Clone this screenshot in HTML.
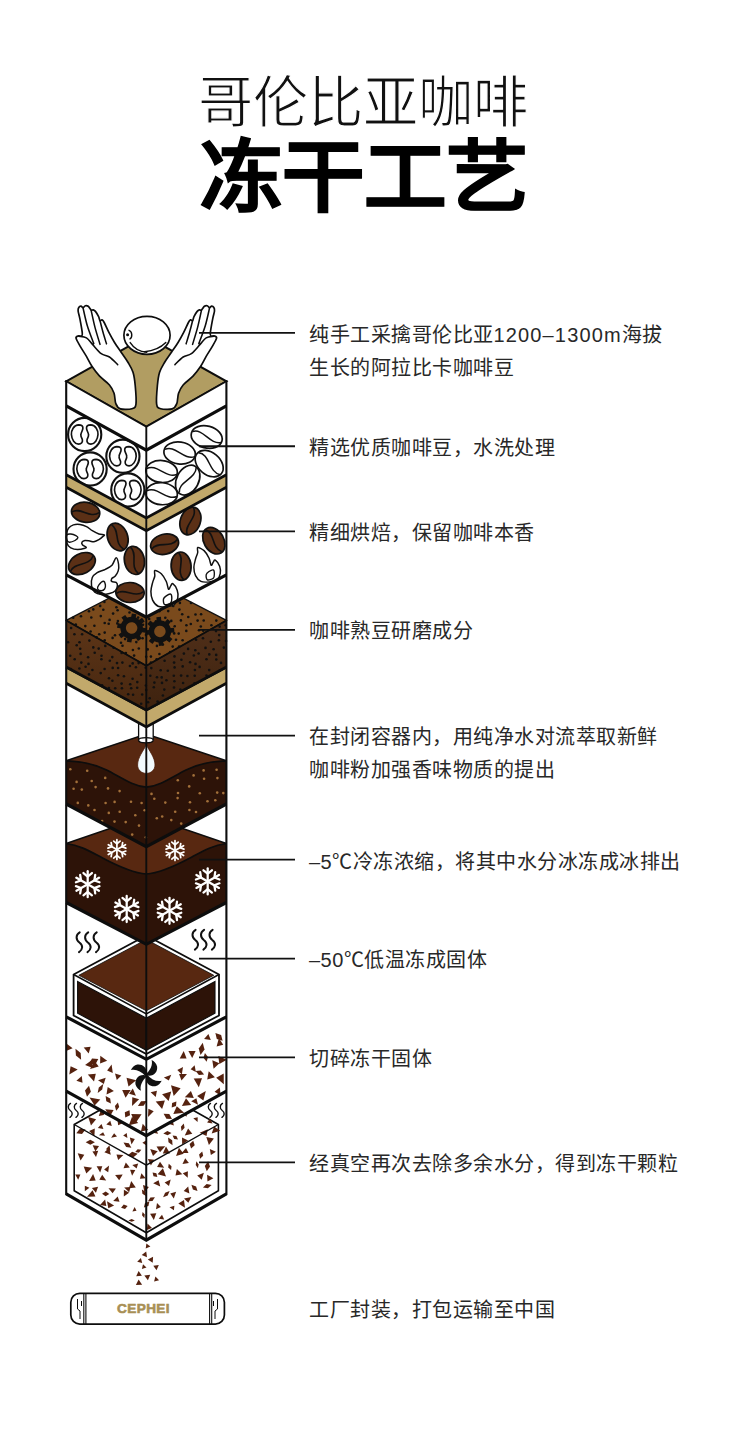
<!DOCTYPE html>
<html lang="zh-CN"><head><meta charset="utf-8">
<style>
html,body{margin:0;padding:0;background:#fff;}
body{width:730px;height:1429px;position:relative;overflow:hidden;font-family:"Liberation Sans",sans-serif;color:#222;}
.t1{position:absolute;left:198px;top:68px;font-size:55.3px;line-height:70px;font-weight:300;-webkit-text-stroke:1.2px #fff;white-space:nowrap;color:#111;}
.t2{position:absolute;left:199.5px;top:126px;font-size:82.5px;line-height:100px;font-weight:700;white-space:nowrap;color:#000;-webkit-text-stroke:1.3px #000;transform:scaleY(0.955);transform-origin:0 88px;}
.tx{position:absolute;left:309px;font-size:20px;letter-spacing:0.5px;line-height:33px;white-space:nowrap;color:#282828;}
svg{position:absolute;left:0;top:0;}
</style></head><body>
<svg width="730" height="1429" viewBox="0 0 730 1429"><defs>
<symbol id="flake" viewBox="-14 -14 28 28" overflow="visible">
 <g stroke="#fff" stroke-width="2.3" stroke-linecap="round" stroke-linejoin="round" fill="none">
  <g id="arm"><line x1="0" y1="0" x2="0" y2="-13.2"/><polyline points="-4.3,-11.3 0,-7.8 4.3,-11.3"/></g>
  <use href="#arm" transform="rotate(60)"/><use href="#arm" transform="rotate(120)"/>
  <use href="#arm" transform="rotate(180)"/><use href="#arm" transform="rotate(240)"/><use href="#arm" transform="rotate(300)"/>
 </g>
</symbol>
<symbol id="bean" viewBox="-16 -11 32 22" overflow="visible">
 <ellipse cx="0" cy="0" rx="14.2" ry="10" fill="#5b3016" stroke="#111" stroke-width="1.7"/>
 <path d="M-13.5,1.5 C-6,-5 5,6 13.5,-1.5" fill="none" stroke="#111" stroke-width="1.6"/>
</symbol>
<symbol id="gbean" viewBox="-16 -11 32 22" overflow="visible">
 <ellipse cx="0" cy="0" rx="15.8" ry="11" fill="#fff" stroke="#111" stroke-width="1.7"/>
 <path d="M-15,-1.5 C-6,-8 5,7 15.5,1.5" fill="none" stroke="#111" stroke-width="1.5"/>
</symbol>
<symbol id="gcirc" viewBox="-18 -18 36 36" overflow="visible">
 <circle cx="0" cy="0" r="16.6" fill="#fff" stroke="#111" stroke-width="2.1"/>
 <path d="M-6,-9.6 C-11,-9.5 -13.5,-4 -13.3,0 C-13,5 -10,9.6 -6.2,9.6 C-3,9.6 -2,7.5 -2.3,5.5 C-2.6,3.5 -4.2,2.5 -3.8,0 C-3.5,-2.5 -1.8,-4 -1.8,-6.5 C-1.8,-8.5 -3.5,-9.6 -6,-9.6 Z" fill="none" stroke="#111" stroke-width="1.65"/>
 <path d="M6,-9.6 C11,-9.5 13.5,-4 13.3,0 C13,5 10,9.6 6.2,9.6 C3,9.6 2,7.5 2.3,5.5 C2.6,3.5 4.2,2.5 3.8,0 C3.5,-2.5 1.8,-4 1.8,-6.5 C1.8,-8.5 3.5,-9.6 6,-9.6 Z" fill="none" stroke="#111" stroke-width="1.65"/>
</symbol>
<symbol id="flame" viewBox="-16 -20 32 40" overflow="visible"><path d="M-9.80,-17.90 C-8.72,-18.27 -5.22,-16.43 -3.30,-14.60 C-1.38,-12.77 0.50,-9.47 1.70,-6.90 C2.90,-4.33 3.17,0.07 3.90,0.80 C4.63,1.53 5.38,-1.58 6.10,-2.50 C6.82,-3.42 7.12,-5.43 8.20,-4.70 C9.28,-3.97 11.77,-0.47 12.60,1.90 C13.43,4.27 13.65,7.13 13.20,9.50 C12.75,11.87 11.73,14.63 9.90,16.10 C8.07,17.57 4.93,18.02 2.20,18.30 C-0.53,18.58 -4.13,18.90 -6.50,17.80 C-8.87,16.70 -10.80,14.17 -12.00,11.70 C-13.20,9.23 -13.70,5.92 -13.70,3.00 C-13.70,0.08 -12.65,-3.23 -12.00,-5.80 C-11.35,-8.37 -10.17,-10.38 -9.80,-12.40 C-9.43,-14.42 -10.88,-17.53 -9.80,-17.90 Z" fill="#fff" stroke="#111" stroke-width="1.5" stroke-linejoin="round"/><path d="M0.00,16.10 C-1.20,15.45 -1.38,12.05 -1.10,10.60 C-0.82,9.15 0.50,8.22 1.70,7.40 C2.90,6.58 5.18,5.33 6.10,5.70 C7.02,6.07 7.20,8.13 7.20,9.60 C7.20,11.07 7.30,13.42 6.10,14.50 C4.90,15.58 1.20,16.75 0.00,16.10 Z" fill="none" stroke="#111" stroke-width="1.4"/></symbol>
<symbol id="steam" viewBox="0 0 26 22" overflow="visible">
 <g fill="none" stroke="#111" stroke-width="2" stroke-linecap="round">
 <path id="sq" d="M4.1,0.9 C0,3.5 0,8 3.8,11 C7.8,14 7.2,18 3.4,20.6"/>
 <use href="#sq" x="8.5"/><use href="#sq" x="17"/>
 </g>
</symbol>
<linearGradient id="gb" x1="0" y1="0" x2="0" y2="1"><stop offset="0" stop-color="#5e3618"/><stop offset="1" stop-color="#46260f"/></linearGradient><linearGradient id="gbr" x1="0" y1="0" x2="0" y2="1"><stop offset="0" stop-color="#51301a"/><stop offset="1" stop-color="#3e220e"/></linearGradient>
</defs>
<rect x="70.8" y="1293.3" width="153.6" height="30.8" rx="9" fill="#fff" stroke="#0d0d0d" stroke-width="1.7"/>
<g stroke="#0d0d0d" stroke-width="1.1"><line x1="83.8" y1="1293.3" x2="83.8" y2="1324"/><line x1="85.9" y1="1293.3" x2="85.9" y2="1324"/><line x1="209.6" y1="1293.3" x2="209.6" y2="1324"/><line x1="211.7" y1="1293.3" x2="211.7" y2="1324"/></g>
<g fill="none" stroke="#0d0d0d" stroke-width="1"><path d="M77.5,1299 L77.5,1309 L80,1311 L80,1319"/><path d="M81.5,1301 L81.5,1306"/><path d="M217.5,1299 L217.5,1309 L215,1311 L215,1319"/><path d="M213.5,1301 L213.5,1306"/></g>
<text x="143.5" y="1312.8" text-anchor="middle" font-family="Liberation Sans" font-weight="700" font-size="13.6" fill="#a88f55" stroke="#a88f55" stroke-width="0.6" letter-spacing="0.4">CEPHEI</text>
<g fill="#55220f"><polygon points="146.4,1243.4 150.4,1246.5 145.7,1248.4"/><polygon points="141.7,1255.1 146.2,1251.6 147.0,1257.3"/><polygon points="140.9,1258.0 142.2,1263.0 137.2,1261.7"/><polygon points="147.8,1259.4 153.1,1256.8 152.7,1262.8"/><polygon points="156.5,1270.2 153.3,1265.7 158.8,1265.1"/><polygon points="141.9,1269.0 143.0,1264.3 146.5,1267.6"/><polygon points="141.9,1275.8 136.2,1276.3 138.6,1271.1"/><polygon points="147.9,1280.3 144.3,1275.5 150.2,1274.8"/><polygon points="159.1,1280.2 154.1,1281.5 155.4,1276.5"/><polygon points="138.6,1279.5 142.1,1284.7 135.9,1285.1"/></g>
<use href="#steam" x="67.5" y="1102.8" width="18.5" height="15.5"/>
<use href="#steam" x="207.5" y="1102.8" width="18.5" height="15.5"/>
<polygon points="74.2,1124.5 146.3,1084 218.4,1124.5 218.4,1190.8 146.3,1232.7 74.2,1190.8" fill="#fff" stroke="#0d0d0d" stroke-width="1.6"/>
<g fill="#55220f"><polygon points="138.7,1087.1 139.7,1094.3 134.4,1092.9"/><polygon points="153.6,1094.5 153.6,1090.8 156.7,1088.7 156.8,1092.5"/><polygon points="118.6,1098.7 122.3,1098.5 124.6,1101.5 120.8,1101.7"/><polygon points="130.4,1106.8 132.0,1101.2 137.0,1106.8"/><polygon points="142.9,1109.5 143.4,1102.2 149.4,1104.8"/><polygon points="158.7,1102.0 161.2,1097.1 166.5,1095.6 164.0,1100.5"/><polygon points="174.2,1102.5 168.3,1105.9 168.0,1098.4"/><polygon points="105.4,1110.5 103.7,1115.1 98.8,1115.9 100.5,1111.3"/><polygon points="112.7,1106.6 115.1,1109.0 114.4,1112.4 112.0,1109.9"/><polygon points="128.7,1112.6 132.7,1116.8 126.1,1118.2"/><polygon points="143.1,1113.3 138.6,1113.8 139.9,1109.5"/><polygon points="150.8,1110.4 154.2,1107.4 158.4,1108.8 155.1,1111.7"/><polygon points="169.2,1111.9 162.8,1113.0 167.0,1105.6"/><polygon points="174.7,1115.1 181.5,1113.7 177.9,1120.2"/><polygon points="182.8,1113.5 187.7,1111.0 186.4,1116.7"/><polygon points="88.2,1117.0 96.1,1119.3 91.0,1125.4"/><polygon points="97.8,1127.9 101.5,1123.9 103.4,1128.9"/><polygon points="106.3,1124.4 110.3,1120.8 111.8,1126.1"/><polygon points="118.2,1125.2 117.5,1119.8 123.1,1122.9"/><polygon points="139.3,1128.5 131.7,1124.0 139.1,1120.7"/><polygon points="146.0,1116.8 151.5,1117.9 153.4,1123.1 148.0,1122.0"/><polygon points="160.1,1129.1 155.2,1127.5 159.7,1123.2"/><polygon points="172.4,1119.6 173.9,1125.6 169.1,1124.0"/><polygon points="183.8,1123.5 184.6,1127.8 181.6,1131.1 180.9,1126.7"/><polygon points="193.3,1118.2 197.7,1117.3 197.6,1121.9"/><polygon points="210.0,1118.6 212.5,1123.5 207.1,1122.5"/><polygon points="76.3,1133.3 79.9,1128.7 85.6,1129.6 82.0,1134.1"/><polygon points="94.8,1128.5 94.4,1136.2 89.1,1131.0"/><polygon points="105.0,1135.7 98.9,1135.3 103.1,1132.3"/><polygon points="117.0,1136.5 111.1,1137.8 114.1,1133.3"/><polygon points="126.7,1132.9 127.4,1138.0 123.2,1135.6"/><polygon points="145.4,1136.7 140.9,1133.2 147.0,1131.3"/><polygon points="152.2,1129.6 156.2,1130.3 158.2,1133.8 154.2,1133.1"/><polygon points="163.3,1133.4 167.3,1131.1 171.5,1132.9 167.6,1135.2"/><polygon points="172.6,1135.6 176.4,1136.1 178.0,1139.5 174.2,1139.0"/><polygon points="192.3,1133.8 184.8,1135.5 188.1,1128.5"/><polygon points="199.7,1132.8 207.8,1129.2 206.5,1136.1"/><polygon points="214.1,1126.6 220.2,1130.8 211.7,1133.6"/><polygon points="85.7,1142.2 90.3,1139.8 94.9,1142.2 90.3,1144.7"/><polygon points="95.4,1151.5 92.7,1145.3 99.0,1146.1"/><polygon points="110.4,1150.9 105.9,1149.2 109.5,1145.2"/><polygon points="131.4,1147.8 126.2,1147.0 123.5,1142.4 128.8,1143.2"/><polygon points="129.8,1137.5 134.8,1139.1 131.5,1144.4"/><polygon points="142.4,1142.8 146.0,1140.5 146.8,1145.8"/><polygon points="165.2,1146.2 160.0,1152.3 156.5,1146.4"/><polygon points="168.1,1137.4 172.2,1140.2 172.5,1145.2 168.5,1142.3"/><polygon points="182.2,1144.5 182.0,1137.6 188.1,1140.4"/><polygon points="193.2,1140.7 194.7,1145.3 191.1,1148.6 189.6,1144.0"/><polygon points="208.9,1145.1 206.3,1136.9 213.9,1138.5"/><polygon points="84.3,1154.8 80.6,1160.4 77.7,1153.3"/><polygon points="92.4,1151.5 98.2,1150.7 96.0,1157.0"/><polygon points="109.1,1148.1 110.8,1154.7 104.4,1152.3"/><polygon points="123.4,1155.0 118.2,1160.0 116.5,1154.4"/><polygon points="137.7,1153.7 133.1,1157.4 127.5,1155.5 132.1,1151.7"/><polygon points="135.2,1152.1 137.6,1149.2 141.3,1149.8 138.9,1152.7"/><polygon points="153.0,1155.9 150.2,1149.1 157.7,1151.2"/><polygon points="162.8,1153.5 166.0,1146.5 170.0,1153.6"/><polygon points="178.9,1147.8 183.7,1153.7 176.1,1155.9"/><polygon points="186.0,1148.1 188.5,1153.1 181.7,1153.0"/><polygon points="202.2,1151.4 203.2,1155.7 200.1,1158.8 199.1,1154.6"/><polygon points="210.9,1155.0 209.8,1149.0 215.9,1151.8"/><polygon points="83.7,1166.5 92.2,1167.8 86.3,1173.6"/><polygon points="102.3,1166.2 100.2,1172.6 96.6,1166.3"/><polygon points="108.2,1172.2 104.1,1169.6 109.1,1165.6"/><polygon points="129.8,1167.6 123.5,1168.3 125.8,1162.4"/><polygon points="138.2,1163.5 136.6,1168.5 132.3,1165.0"/><polygon points="154.3,1159.7 150.9,1165.4 147.9,1159.1"/><polygon points="157.1,1167.0 160.0,1161.7 164.2,1167.7"/><polygon points="171.1,1170.1 168.2,1167.5 168.7,1163.7 171.5,1166.3"/><polygon points="188.9,1162.9 182.5,1164.0 185.2,1158.3"/><polygon points="197.9,1168.2 195.7,1165.0 196.4,1161.2 198.6,1164.4"/><polygon points="206.8,1171.2 204.8,1165.9 208.1,1161.2 210.0,1166.5"/><polygon points="78.2,1179.7 75.2,1174.6 80.4,1174.5"/><polygon points="95.7,1180.6 89.1,1181.0 93.1,1173.9"/><polygon points="99.3,1179.7 102.2,1174.7 106.2,1180.5"/><polygon points="122.7,1174.6 119.2,1180.3 115.1,1174.9"/><polygon points="135.3,1170.0 132.1,1175.8 130.1,1169.8"/><polygon points="139.9,1178.7 141.4,1173.2 145.7,1178.3"/><polygon points="157.3,1177.1 153.5,1176.2 152.6,1172.4 156.4,1173.3"/><polygon points="157.6,1174.3 162.9,1168.3 166.0,1176.4"/><polygon points="176.9,1169.1 182.3,1174.3 175.5,1175.6"/><polygon points="187.9,1171.2 187.7,1177.7 182.7,1173.2"/><polygon points="201.7,1179.7 197.2,1175.4 203.9,1172.7"/><polygon points="207.5,1181.5 207.1,1174.8 213.4,1178.3"/><polygon points="89.4,1187.8 84.8,1191.2 84.8,1185.7"/><polygon points="98.1,1186.7 95.9,1192.7 91.9,1187.9"/><polygon points="112.6,1193.3 108.5,1188.3 115.9,1188.5"/><polygon points="129.1,1192.3 124.2,1187.4 130.6,1187.1"/><polygon points="135.8,1187.4 128.9,1188.2 131.2,1181.1"/><polygon points="143.0,1185.1 148.9,1187.1 144.4,1192.5"/><polygon points="160.3,1186.5 153.2,1183.3 158.6,1180.2"/><polygon points="164.6,1182.5 170.7,1179.6 169.0,1186.1"/><polygon points="188.2,1186.5 189.4,1193.6 183.7,1191.0"/><polygon points="197.5,1191.1 192.9,1189.5 191.4,1184.8 196.1,1186.4"/><polygon points="202.9,1187.4 206.6,1184.0 211.6,1184.9 207.9,1188.3"/><polygon points="95.4,1196.5 87.0,1196.8 92.6,1190.2"/><polygon points="109.3,1194.1 105.6,1196.2 102.0,1193.8 105.7,1191.6"/><polygon points="119.5,1201.7 113.2,1201.1 117.7,1196.6"/><polygon points="129.1,1192.8 123.8,1196.5 123.9,1189.7"/><polygon points="146.0,1196.1 142.4,1193.8 141.9,1189.5 145.5,1191.8"/><polygon points="148.0,1201.2 150.4,1197.4 154.9,1197.3 152.5,1201.1"/><polygon points="163.1,1197.2 165.1,1192.8 169.6,1191.0 167.7,1195.5"/><polygon points="176.1,1191.8 173.8,1198.6 170.3,1193.4"/><polygon points="191.4,1197.1 188.3,1202.8 184.0,1198.4"/><polygon points="100.0,1205.1 105.1,1199.6 106.3,1206.0"/><polygon points="108.3,1208.3 107.0,1201.3 114.1,1205.6"/><polygon points="121.1,1207.7 123.7,1204.5 127.6,1205.9 125.0,1209.0"/><polygon points="134.6,1207.1 136.5,1210.7 132.4,1211.6"/><polygon points="143.9,1207.4 145.0,1202.9 149.4,1201.5 148.4,1206.0"/><polygon points="157.0,1202.9 160.9,1207.0 156.0,1209.2"/><polygon points="169.5,1207.3 174.4,1205.7 173.9,1210.2"/><polygon points="185.0,1207.7 178.3,1203.6 184.0,1200.0"/><polygon points="128.4,1220.5 131.6,1219.0 134.9,1220.4 131.7,1221.8"/><polygon points="142.6,1211.9 144.8,1214.5 144.3,1217.9 142.0,1215.3"/><polygon points="153.8,1219.9 150.1,1213.7 156.3,1213.2"/><polygon points="162.0,1214.8 164.2,1219.5 158.7,1218.8"/><polygon points="147.5,1223.5 152.0,1228.0 146.8,1229.9"/></g>
<polyline points="74.2,1124.5 146.3,1165.1 218.4,1124.5" fill="none" stroke="#0d0d0d" stroke-width="1.4"/>
<line x1="146.3" y1="1165" x2="146.3" y2="1232" stroke="#0d0d0d" stroke-width="1.3"/>
<polyline points="66.2,1193.9 146.3,1240.1 226.4,1193.9" fill="none" stroke="#0d0d0d" stroke-width="3.2" stroke-linejoin="miter"/>
<polygon points="66.2,1016.8 146.3,1059.3 226.4,1016.8 226.4,1091.2 146.3,1135.6 66.2,1091.2" fill="#fff"/>
<g fill="#55220f"><polygon points="210.8,1040.1 204.1,1038.9 208.4,1034.1"/><polygon points="222.6,1040.8 216.8,1038.9 215.4,1033.0 221.1,1035.0"/><polygon points="72.6,1048.3 66.7,1050.7 67.1,1043.9"/><polygon points="88.7,1053.4 83.7,1047.4 90.6,1046.8"/><polygon points="200.5,1054.9 198.8,1048.4 202.7,1042.8 204.5,1049.4"/><polygon points="223.2,1044.7 216.6,1046.4 218.9,1037.9"/><polygon points="81.1,1059.8 75.9,1055.5 75.5,1048.8 80.7,1053.1"/><polygon points="89.0,1063.9 92.0,1058.4 98.3,1058.9 95.3,1064.5"/><polygon points="100.3,1055.7 107.2,1060.8 100.1,1063.4"/><polygon points="179.7,1058.4 183.7,1051.0 186.6,1058.4"/><polygon points="188.4,1051.1 195.6,1051.0 192.2,1058.0"/><polygon points="206.6,1061.8 203.5,1057.8 204.9,1053.0 208.0,1057.0"/><polygon points="219.3,1064.1 218.3,1056.1 226.8,1059.7"/><polygon points="69.3,1074.6 70.6,1066.3 77.7,1069.6"/><polygon points="91.2,1060.4 93.5,1068.2 85.1,1064.9"/><polygon points="90.0,1068.9 94.5,1060.9 98.7,1066.4"/><polygon points="111.6,1064.5 112.8,1073.1 107.1,1070.4"/><polygon points="183.0,1067.1 181.8,1074.5 177.3,1070.1"/><polygon points="194.6,1065.3 195.9,1072.0 190.6,1069.2"/><polygon points="204.1,1074.4 198.9,1074.9 195.6,1070.9 200.8,1070.5"/><polygon points="212.3,1060.3 219.4,1063.3 213.6,1068.8"/><polygon points="81.8,1076.1 82.5,1082.7 76.4,1080.7"/><polygon points="87.8,1074.6 95.8,1073.7 94.0,1081.5"/><polygon points="105.7,1077.8 103.8,1084.0 98.0,1080.3"/><polygon points="115.0,1073.4 121.4,1075.5 116.8,1080.1"/><polygon points="128.5,1086.5 126.5,1077.8 136.2,1080.3"/><polygon points="171.3,1074.7 168.8,1080.6 163.9,1077.4"/><polygon points="179.1,1074.0 187.0,1074.1 181.5,1080.6"/><polygon points="198.8,1087.2 193.7,1078.6 202.0,1078.3"/><polygon points="214.9,1077.2 207.2,1079.5 208.7,1071.2"/><polygon points="223.8,1084.3 216.2,1077.7 223.7,1073.6"/><polygon points="89.0,1085.7 90.9,1091.7 87.0,1096.7 85.0,1090.6"/><polygon points="103.3,1084.1 102.2,1089.6 97.7,1092.9 98.8,1087.4"/><polygon points="113.9,1091.1 106.5,1094.4 107.7,1087.0"/><polygon points="125.6,1097.8 122.2,1089.9 130.7,1089.9"/><polygon points="135.9,1095.7 129.1,1093.7 132.8,1088.5"/><polygon points="150.6,1092.2 156.9,1090.7 155.8,1097.0"/><polygon points="171.2,1091.4 168.6,1101.0 162.1,1094.2"/><polygon points="171.0,1085.3 180.6,1088.2 173.7,1095.9"/><polygon points="184.8,1097.3 190.9,1090.9 193.8,1097.9"/><polygon points="205.8,1091.0 203.4,1100.4 197.1,1096.1"/><polygon points="220.6,1095.6 214.6,1091.7 219.9,1087.6"/><polygon points="100.3,1099.6 94.6,1105.5 89.5,1097.6"/><polygon points="110.9,1103.4 106.3,1101.2 105.6,1096.1 110.2,1098.4"/><polygon points="116.2,1110.7 114.9,1106.1 117.9,1102.4 119.2,1107.0"/><polygon points="132.3,1097.2 139.1,1099.3 132.0,1105.9"/><polygon points="146.8,1101.0 143.6,1105.8 137.9,1105.9 141.1,1101.2"/><polygon points="155.7,1101.6 164.9,1100.4 162.1,1109.0"/><polygon points="171.7,1107.5 172.1,1102.9 176.4,1101.5 176.0,1106.0"/><polygon points="191.2,1105.1 181.9,1105.9 186.0,1098.3"/><polygon points="196.4,1098.2 198.0,1104.8 191.2,1101.3"/><polygon points="105.2,1109.2 113.6,1109.9 109.9,1116.5"/><polygon points="125.3,1117.5 124.8,1112.3 129.5,1110.2 130.0,1115.3"/><polygon points="135.3,1123.5 131.2,1114.0 141.6,1114.3"/><polygon points="153.7,1111.2 148.0,1117.0 148.4,1108.8"/><polygon points="163.6,1113.8 169.3,1113.9 172.0,1118.9 166.4,1118.8"/><polygon points="184.2,1112.7 173.3,1114.1 176.8,1106.2"/><polygon points="138.2,1122.9 128.9,1125.2 132.0,1116.7"/><polygon points="148.2,1130.0 140.9,1131.6 142.7,1123.7"/></g>
<g transform="translate(146.3,1075.4)" fill="#111"><path transform="rotate(0)" d="M0.3,-2.5 C0.5,-8.5 -4.5,-11.5 -9,-10.8 C-12,-10 -14.2,-7.8 -15.4,-5.3 C-11,-6.6 -5,-4.5 -0.6,1.2 Z"/><path transform="rotate(90)" d="M0.3,-2.5 C0.5,-8.5 -4.5,-11.5 -9,-10.8 C-12,-10 -14.2,-7.8 -15.4,-5.3 C-11,-6.6 -5,-4.5 -0.6,1.2 Z"/><path transform="rotate(180)" d="M0.3,-2.5 C0.5,-8.5 -4.5,-11.5 -9,-10.8 C-12,-10 -14.2,-7.8 -15.4,-5.3 C-11,-6.6 -5,-4.5 -0.6,1.2 Z"/><path transform="rotate(270)" d="M0.3,-2.5 C0.5,-8.5 -4.5,-11.5 -9,-10.8 C-12,-10 -14.2,-7.8 -15.4,-5.3 C-11,-6.6 -5,-4.5 -0.6,1.2 Z"/></g>
<polyline points="66.2,1091.2 146.3,1135.6 226.4,1091.2" fill="none" stroke="#0d0d0d" stroke-width="3.2" stroke-linejoin="miter"/>
<polyline points="66.2,1016.8 146.3,1059.3 226.4,1016.8" fill="none" stroke="#0d0d0d" stroke-width="3.2" stroke-linejoin="miter"/>
<use href="#steam" x="75.6" y="931.5" width="26" height="22"/>
<use href="#steam" x="191.5" y="929" width="26" height="22"/>
<polygon points="73.6,974.5 146.3,935.5 219.0,974.5 219.0,1015.5 146.3,1054 73.6,1015.5" fill="#fff" stroke="#0d0d0d" stroke-width="1.8"/>
<polygon points="78.8,975.3 146.3,939.5 213.8,975.3 146.3,1010.8" fill="#582811" stroke="#0d0d0d" stroke-width="0.8"/>
<polygon points="77.6,981.5 146.3,1018.2 146.3,1050.3 77.6,1013.2" fill="#2d1308" stroke="#0d0d0d" stroke-width="1.1"/>
<polygon points="215,981.5 146.3,1018.2 146.3,1050.3 215,1013.2" fill="#2d1308" stroke="#0d0d0d" stroke-width="1.1"/>
<polyline points="73.6,974.5 146.3,1013.8 219.0,974.5" fill="none" stroke="#0d0d0d" stroke-width="1.5"/>
<path d="M66.2,843.5 L146.3,816 L226.4,843.5 L226.4,880 L66.2,880 Z" fill="#582811"/>
<path d="M66.2,843.5 C80.4,845.5 89.4,851 102.6,858 C117.6,866 132.6,873 146.3,874 C160,873 175,866 190,858 C203,851 212,845.5 226.4,843.5 L226.4,902.5 L146.3,944.3 L66.2,902.5 Z" fill="#2d1308"/>
<path d="M66.2,843.5 C80.4,845.5 89.4,851 102.6,858 C117.6,866 132.6,873 146.3,874 C160,873 175,866 190,858 C203,851 212,845.5 226.4,843.5" fill="none" stroke="#0d0d0d" stroke-width="1.7"/>
<polyline points="66.2,843.5 146.3,816 226.4,843.5" fill="none" stroke="#0d0d0d" stroke-width="1.5"/>
<use href="#flake" x="106.4" y="839.1" width="21.0" height="21.0"/>
<use href="#flake" x="164.5" y="840.1" width="21.0" height="21.0"/>
<use href="#flake" x="73.9" y="870.4000000000001" width="27.6" height="27.6"/>
<use href="#flake" x="112.9" y="895.2" width="27.6" height="27.6"/>
<use href="#flake" x="155.7" y="897.0" width="27.6" height="27.6"/>
<use href="#flake" x="193.89999999999998" y="867.6" width="27.6" height="27.6"/>
<polyline points="66.2,902.5 146.3,944.3 226.4,902.5" fill="none" stroke="#0d0d0d" stroke-width="3.2" stroke-linejoin="miter"/>
<path d="M66.2,760.8 L146.3,734 L226.4,760.8 L226.4,790 L66.2,790 Z" fill="#582811"/>
<path d="M66.2,760.8 C80.4,761.2 92.4,763 106.6,770 C120.6,777 132.6,786 146.3,787.2 C160,786 172,777 186,770 C200,763 212.2,761.2 226.4,760.8 L226.4,804 L146.3,846.6 L66.2,804 Z" fill="#2d1308"/>
<g fill="#a2703a"><circle cx="70.3" cy="769.2" r="1.3"/><circle cx="87.2" cy="770.8" r="1.3"/><circle cx="203.6" cy="770.4" r="1.3"/><circle cx="216.6" cy="769.8" r="1.3"/><circle cx="76.6" cy="781.9" r="1.3"/><circle cx="91.7" cy="781.0" r="1.3"/><circle cx="105.2" cy="777.9" r="1.3"/><circle cx="177.8" cy="780.3" r="1.3"/><circle cx="193.6" cy="775.4" r="1.3"/><circle cx="204.1" cy="778.8" r="1.3"/><circle cx="217.4" cy="778.1" r="1.3"/><circle cx="73.6" cy="788.7" r="1.3"/><circle cx="81.8" cy="789.6" r="1.3"/><circle cx="95.6" cy="787.1" r="1.3"/><circle cx="108.0" cy="788.4" r="1.3"/><circle cx="119.6" cy="791.1" r="1.3"/><circle cx="151.5" cy="793.9" r="1.3"/><circle cx="178.0" cy="793.0" r="1.3"/><circle cx="189.2" cy="786.4" r="1.3"/><circle cx="199.8" cy="793.3" r="1.3"/><circle cx="217.2" cy="792.6" r="1.3"/><circle cx="223.3" cy="793.1" r="1.3"/><circle cx="77.8" cy="802.9" r="1.3"/><circle cx="88.3" cy="805.4" r="1.3"/><circle cx="105.6" cy="803.0" r="1.3"/><circle cx="114.6" cy="801.9" r="1.3"/><circle cx="131.0" cy="801.7" r="1.3"/><circle cx="141.6" cy="803.0" r="1.3"/><circle cx="154.3" cy="798.8" r="1.3"/><circle cx="165.3" cy="802.6" r="1.3"/><circle cx="177.6" cy="798.1" r="1.3"/><circle cx="190.0" cy="802.2" r="1.3"/><circle cx="207.5" cy="801.2" r="1.3"/><circle cx="215.3" cy="800.2" r="1.3"/><circle cx="94.5" cy="810.0" r="1.3"/><circle cx="108.8" cy="812.9" r="1.3"/><circle cx="119.7" cy="811.7" r="1.3"/><circle cx="135.3" cy="815.2" r="1.3"/><circle cx="144.6" cy="810.3" r="1.3"/><circle cx="162.2" cy="816.5" r="1.3"/><circle cx="175.2" cy="811.7" r="1.3"/><circle cx="189.4" cy="810.0" r="1.3"/><circle cx="196.0" cy="812.0" r="1.3"/><circle cx="102.1" cy="821.0" r="1.3"/><circle cx="114.5" cy="821.6" r="1.3"/><circle cx="125.7" cy="822.1" r="1.3"/><circle cx="139.0" cy="825.6" r="1.3"/><circle cx="156.8" cy="818.3" r="1.3"/><circle cx="171.3" cy="820.1" r="1.3"/><circle cx="181.2" cy="823.6" r="1.3"/><circle cx="132.2" cy="834.6" r="1.3"/><circle cx="145.8" cy="837.2" r="1.3"/></g>
<path d="M66.2,760.8 C80.4,761.2 92.4,763 106.6,770 C120.6,777 132.6,786 146.3,787.2 C160,786 172,777 186,770 C200,763 212.2,761.2 226.4,760.8" fill="none" stroke="#0d0d0d" stroke-width="1.7"/>
<polyline points="66.2,760.8 146.3,734 226.4,760.8" fill="none" stroke="#0d0d0d" stroke-width="1.5"/>
<path d="M146.3,744.4 C149,751 155,757 155,765 C155,770 151,773.4 146.3,773.4 C141.5,773.4 137.6,770 137.6,765 C137.6,757 143.6,751 146.3,744.4 Z" fill="#f2fafd" stroke="#4a1a08" stroke-width="0.8"/>
<rect x="138.6" y="720" width="14.6" height="20.2" fill="#fff" stroke="#0d0d0d" stroke-width="1.3"/>
<ellipse cx="145.9" cy="740.2" rx="7.3" ry="2.6" fill="#fff" stroke="#0d0d0d" stroke-width="1.3"/>
<polyline points="66.2,804 146.3,846.6 226.4,804" fill="none" stroke="#0d0d0d" stroke-width="3.2" stroke-linejoin="miter"/>
<polygon points="66.2,667 146.3,710.1 226.4,667 226.4,683.3 146.3,726.9 66.2,683.3" fill="#c2a96b"/>
<polyline points="66.2,667 146.3,710.1 226.4,667" fill="none" stroke="#0d0d0d" stroke-width="2.6" stroke-linejoin="miter"/>
<polyline points="66.2,683.3 146.3,726.9 226.4,683.3" fill="none" stroke="#0d0d0d" stroke-width="2.8" stroke-linejoin="miter"/>
<polygon points="66.2,620.4 146.3,665.8 146.3,710.1 66.2,667" fill="url(#gb)"/>
<polygon points="146.3,665.8 226.4,620.4 226.4,667 146.3,710.1" fill="url(#gbr)"/>
<polygon points="66.2,620.4 146.3,579 226.4,620.4 146.3,665.8" fill="#7a4a1c" stroke="#111" stroke-width="1.3"/>
<g fill="#111"><circle cx="136.7" cy="585.3" r="1.3"/><circle cx="144.2" cy="584.5" r="1.3"/><circle cx="125.7" cy="593.1" r="1.3"/><circle cx="132.8" cy="588.2" r="1.3"/><circle cx="142.1" cy="593.0" r="1.3"/><circle cx="150.6" cy="590.6" r="1.3"/><circle cx="157.7" cy="588.5" r="1.3"/><circle cx="166.6" cy="590.7" r="1.3"/><circle cx="120.2" cy="595.3" r="1.3"/><circle cx="125.0" cy="599.5" r="1.3"/><circle cx="134.8" cy="600.1" r="1.3"/><circle cx="146.4" cy="596.6" r="1.3"/><circle cx="152.1" cy="597.5" r="1.3"/><circle cx="161.3" cy="597.9" r="1.3"/><circle cx="169.0" cy="598.1" r="1.3"/><circle cx="179.5" cy="597.4" r="1.3"/><circle cx="100.2" cy="605.9" r="1.3"/><circle cx="104.4" cy="601.9" r="1.3"/><circle cx="116.4" cy="607.2" r="1.3"/><circle cx="122.1" cy="604.2" r="1.3"/><circle cx="132.3" cy="603.4" r="1.3"/><circle cx="139.2" cy="603.4" r="1.3"/><circle cx="147.4" cy="605.1" r="1.3"/><circle cx="155.2" cy="603.8" r="1.3"/><circle cx="166.2" cy="601.7" r="1.3"/><circle cx="173.2" cy="605.9" r="1.3"/><circle cx="179.9" cy="602.9" r="1.3"/><circle cx="191.0" cy="603.0" r="1.3"/><circle cx="89.0" cy="611.3" r="1.3"/><circle cx="93.3" cy="609.4" r="1.3"/><circle cx="103.3" cy="609.8" r="1.3"/><circle cx="113.1" cy="613.6" r="1.3"/><circle cx="117.6" cy="610.3" r="1.3"/><circle cx="129.5" cy="612.5" r="1.3"/><circle cx="137.7" cy="610.7" r="1.3"/><circle cx="141.9" cy="610.4" r="1.3"/><circle cx="154.0" cy="610.3" r="1.3"/><circle cx="159.6" cy="611.1" r="1.3"/><circle cx="168.2" cy="611.1" r="1.3"/><circle cx="179.4" cy="609.6" r="1.3"/><circle cx="182.2" cy="614.3" r="1.3"/><circle cx="195.5" cy="614.5" r="1.3"/><circle cx="201.1" cy="614.3" r="1.3"/><circle cx="73.2" cy="617.8" r="1.3"/><circle cx="81.0" cy="616.2" r="1.3"/><circle cx="91.3" cy="617.5" r="1.3"/><circle cx="100.8" cy="616.1" r="1.3"/><circle cx="109.6" cy="619.9" r="1.3"/><circle cx="117.9" cy="621.1" r="1.3"/><circle cx="126.0" cy="619.2" r="1.3"/><circle cx="128.9" cy="620.2" r="1.3"/><circle cx="138.1" cy="617.6" r="1.3"/><circle cx="149.2" cy="618.9" r="1.3"/><circle cx="155.9" cy="621.4" r="1.3"/><circle cx="165.3" cy="617.8" r="1.3"/><circle cx="171.3" cy="620.9" r="1.3"/><circle cx="180.9" cy="620.4" r="1.3"/><circle cx="188.3" cy="617.0" r="1.3"/><circle cx="197.6" cy="620.6" r="1.3"/><circle cx="203.7" cy="620.5" r="1.3"/><circle cx="216.3" cy="620.6" r="1.3"/><circle cx="71.1" cy="628.0" r="1.3"/><circle cx="75.8" cy="624.6" r="1.3"/><circle cx="85.3" cy="626.1" r="1.3"/><circle cx="94.4" cy="625.7" r="1.3"/><circle cx="104.7" cy="623.0" r="1.3"/><circle cx="108.7" cy="623.7" r="1.3"/><circle cx="117.3" cy="623.4" r="1.3"/><circle cx="130.5" cy="628.0" r="1.3"/><circle cx="133.5" cy="625.9" r="1.3"/><circle cx="143.0" cy="624.8" r="1.3"/><circle cx="151.4" cy="626.8" r="1.3"/><circle cx="161.0" cy="625.1" r="1.3"/><circle cx="166.9" cy="624.9" r="1.3"/><circle cx="174.7" cy="626.2" r="1.3"/><circle cx="186.4" cy="625.2" r="1.3"/><circle cx="190.8" cy="624.0" r="1.3"/><circle cx="200.8" cy="626.5" r="1.3"/><circle cx="211.4" cy="625.2" r="1.3"/><circle cx="219.7" cy="626.6" r="1.3"/><circle cx="225.7" cy="625.2" r="1.3"/><circle cx="74.4" cy="634.2" r="1.3"/><circle cx="82.1" cy="634.2" r="1.3"/><circle cx="90.6" cy="631.5" r="1.3"/><circle cx="99.2" cy="634.2" r="1.3"/><circle cx="104.7" cy="632.6" r="1.3"/><circle cx="115.0" cy="635.3" r="1.3"/><circle cx="126.2" cy="632.3" r="1.3"/><circle cx="134.1" cy="634.8" r="1.3"/><circle cx="138.6" cy="632.8" r="1.3"/><circle cx="146.0" cy="634.9" r="1.3"/><circle cx="157.4" cy="635.3" r="1.3"/><circle cx="166.3" cy="634.0" r="1.3"/><circle cx="174.2" cy="633.4" r="1.3"/><circle cx="178.7" cy="633.6" r="1.3"/><circle cx="186.3" cy="630.9" r="1.3"/><circle cx="199.0" cy="630.3" r="1.3"/><circle cx="203.2" cy="630.7" r="1.3"/><circle cx="216.0" cy="631.1" r="1.3"/><circle cx="219.2" cy="635.1" r="1.3"/><circle cx="68.1" cy="642.2" r="1.3"/><circle cx="79.5" cy="642.2" r="1.3"/><circle cx="89.4" cy="640.6" r="1.3"/><circle cx="96.7" cy="637.4" r="1.3"/><circle cx="104.7" cy="640.2" r="1.3"/><circle cx="112.6" cy="637.9" r="1.3"/><circle cx="121.0" cy="642.7" r="1.3"/><circle cx="125.1" cy="639.1" r="1.3"/><circle cx="136.3" cy="642.1" r="1.3"/><circle cx="142.6" cy="638.3" r="1.3"/><circle cx="150.8" cy="640.9" r="1.3"/><circle cx="162.0" cy="639.5" r="1.3"/><circle cx="167.9" cy="639.6" r="1.3"/><circle cx="176.0" cy="639.7" r="1.3"/><circle cx="182.6" cy="640.2" r="1.3"/><circle cx="196.1" cy="639.7" r="1.3"/><circle cx="203.0" cy="638.2" r="1.3"/><circle cx="210.8" cy="641.7" r="1.3"/><circle cx="218.9" cy="640.3" r="1.3"/><circle cx="226.0" cy="641.0" r="1.3"/><circle cx="76.7" cy="645.2" r="1.3"/><circle cx="80.2" cy="648.8" r="1.3"/><circle cx="93.3" cy="647.4" r="1.3"/><circle cx="98.7" cy="648.6" r="1.3"/><circle cx="105.3" cy="645.9" r="1.3"/><circle cx="113.6" cy="647.8" r="1.3"/><circle cx="122.5" cy="645.7" r="1.3"/><circle cx="132.9" cy="650.0" r="1.3"/><circle cx="138.8" cy="648.5" r="1.3"/><circle cx="147.7" cy="649.4" r="1.3"/><circle cx="156.9" cy="645.9" r="1.3"/><circle cx="162.9" cy="644.5" r="1.3"/><circle cx="172.7" cy="646.6" r="1.3"/><circle cx="179.1" cy="646.5" r="1.3"/><circle cx="188.1" cy="648.9" r="1.3"/><circle cx="195.3" cy="650.2" r="1.3"/><circle cx="205.5" cy="647.9" r="1.3"/><circle cx="213.6" cy="649.3" r="1.3"/><circle cx="223.9" cy="647.6" r="1.3"/><circle cx="70.2" cy="655.7" r="1.3"/><circle cx="80.6" cy="653.9" r="1.3"/><circle cx="88.1" cy="657.2" r="1.3"/><circle cx="94.7" cy="652.8" r="1.3"/><circle cx="101.5" cy="655.7" r="1.3"/><circle cx="112.3" cy="657.1" r="1.3"/><circle cx="121.6" cy="652.9" r="1.3"/><circle cx="125.9" cy="653.0" r="1.3"/><circle cx="134.1" cy="655.6" r="1.3"/><circle cx="146.2" cy="656.8" r="1.3"/><circle cx="150.9" cy="656.6" r="1.3"/><circle cx="159.4" cy="654.0" r="1.3"/><circle cx="170.1" cy="652.0" r="1.3"/><circle cx="174.5" cy="656.4" r="1.3"/><circle cx="183.9" cy="653.6" r="1.3"/><circle cx="193.8" cy="655.5" r="1.3"/><circle cx="198.6" cy="653.5" r="1.3"/><circle cx="209.3" cy="654.4" r="1.3"/><circle cx="216.2" cy="654.9" r="1.3"/><circle cx="74.7" cy="659.3" r="1.3"/><circle cx="81.3" cy="662.6" r="1.3"/><circle cx="88.5" cy="663.9" r="1.3"/><circle cx="101.4" cy="659.2" r="1.3"/><circle cx="109.8" cy="660.8" r="1.3"/><circle cx="117.0" cy="663.1" r="1.3"/><circle cx="122.4" cy="662.6" r="1.3"/><circle cx="132.7" cy="663.4" r="1.3"/><circle cx="138.6" cy="663.1" r="1.3"/><circle cx="150.9" cy="662.6" r="1.3"/><circle cx="156.6" cy="659.3" r="1.3"/><circle cx="164.6" cy="660.7" r="1.3"/><circle cx="174.1" cy="662.6" r="1.3"/><circle cx="181.4" cy="659.7" r="1.3"/><circle cx="190.1" cy="662.3" r="1.3"/><circle cx="195.5" cy="663.9" r="1.3"/><circle cx="206.5" cy="659.3" r="1.3"/><circle cx="216.3" cy="659.5" r="1.3"/><circle cx="221.0" cy="662.9" r="1.3"/><circle cx="70.9" cy="669.0" r="1.3"/><circle cx="79.4" cy="668.5" r="1.3"/><circle cx="85.6" cy="666.8" r="1.3"/><circle cx="92.4" cy="670.0" r="1.3"/><circle cx="104.6" cy="669.0" r="1.3"/><circle cx="112.7" cy="667.9" r="1.3"/><circle cx="118.1" cy="668.0" r="1.3"/><circle cx="129.9" cy="666.0" r="1.3"/><circle cx="135.9" cy="667.2" r="1.3"/><circle cx="145.7" cy="667.8" r="1.3"/><circle cx="151.3" cy="668.1" r="1.3"/><circle cx="160.7" cy="670.3" r="1.3"/><circle cx="167.8" cy="670.8" r="1.3"/><circle cx="174.6" cy="667.4" r="1.3"/><circle cx="182.7" cy="666.4" r="1.3"/><circle cx="194.9" cy="670.0" r="1.3"/><circle cx="199.6" cy="666.9" r="1.3"/><circle cx="209.2" cy="670.1" r="1.3"/><circle cx="219.8" cy="670.2" r="1.3"/><circle cx="89.0" cy="674.4" r="1.3"/><circle cx="100.7" cy="673.1" r="1.3"/><circle cx="109.0" cy="678.2" r="1.3"/><circle cx="118.1" cy="675.2" r="1.3"/><circle cx="123.9" cy="676.3" r="1.3"/><circle cx="132.6" cy="678.7" r="1.3"/><circle cx="141.1" cy="674.7" r="1.3"/><circle cx="150.3" cy="675.7" r="1.3"/><circle cx="157.0" cy="677.2" r="1.3"/><circle cx="161.7" cy="677.4" r="1.3"/><circle cx="173.8" cy="675.8" r="1.3"/><circle cx="181.1" cy="675.6" r="1.3"/><circle cx="187.4" cy="676.0" r="1.3"/><circle cx="194.7" cy="675.8" r="1.3"/><circle cx="206.5" cy="675.5" r="1.3"/><circle cx="102.1" cy="685.2" r="1.3"/><circle cx="112.4" cy="680.8" r="1.3"/><circle cx="121.6" cy="683.6" r="1.3"/><circle cx="130.2" cy="684.3" r="1.3"/><circle cx="137.3" cy="682.1" r="1.3"/><circle cx="145.9" cy="685.5" r="1.3"/><circle cx="154.4" cy="682.6" r="1.3"/><circle cx="162.0" cy="682.9" r="1.3"/><circle cx="166.4" cy="680.3" r="1.3"/><circle cx="174.4" cy="681.2" r="1.3"/><circle cx="183.1" cy="683.0" r="1.3"/><circle cx="194.5" cy="683.2" r="1.3"/><circle cx="108.9" cy="688.0" r="1.3"/><circle cx="115.2" cy="688.3" r="1.3"/><circle cx="121.9" cy="688.2" r="1.3"/><circle cx="131.2" cy="688.2" r="1.3"/><circle cx="137.2" cy="687.8" r="1.3"/><circle cx="146.2" cy="690.1" r="1.3"/><circle cx="153.8" cy="687.3" r="1.3"/><circle cx="164.3" cy="689.6" r="1.3"/><circle cx="174.0" cy="687.5" r="1.3"/><circle cx="180.4" cy="689.5" r="1.3"/><circle cx="128.2" cy="694.3" r="1.3"/><circle cx="133.1" cy="694.8" r="1.3"/><circle cx="142.2" cy="694.5" r="1.3"/><circle cx="149.7" cy="698.2" r="1.3"/><circle cx="162.9" cy="695.5" r="1.3"/><circle cx="141.2" cy="703.7" r="1.3"/><circle cx="148.1" cy="702.3" r="1.3"/><circle cx="157.6" cy="701.6" r="1.3"/></g>
<polyline points="66.2,620.4 146.3,665.8 226.4,620.4" fill="none" stroke="#0d0d0d" stroke-width="1.7"/>
<g transform="translate(131.6,628) rotate(10)" fill="#111"><circle r="11.23"/><rect x="-2.3" y="-14.40" width="4.6" height="4.67" transform="rotate(0.0)"/><rect x="-2.3" y="-14.40" width="4.6" height="4.67" transform="rotate(45.0)"/><rect x="-2.3" y="-14.40" width="4.6" height="4.67" transform="rotate(90.0)"/><rect x="-2.3" y="-14.40" width="4.6" height="4.67" transform="rotate(135.0)"/><rect x="-2.3" y="-14.40" width="4.6" height="4.67" transform="rotate(180.0)"/><rect x="-2.3" y="-14.40" width="4.6" height="4.67" transform="rotate(225.0)"/><rect x="-2.3" y="-14.40" width="4.6" height="4.67" transform="rotate(270.0)"/><rect x="-2.3" y="-14.40" width="4.6" height="4.67" transform="rotate(315.0)"/><circle r="5.76" fill="#7a4a1c"/></g>
<g transform="translate(159.9,631.4) rotate(-5)" fill="#111"><circle r="11.23"/><rect x="-2.3" y="-14.40" width="4.6" height="4.67" transform="rotate(0.0)"/><rect x="-2.3" y="-14.40" width="4.6" height="4.67" transform="rotate(45.0)"/><rect x="-2.3" y="-14.40" width="4.6" height="4.67" transform="rotate(90.0)"/><rect x="-2.3" y="-14.40" width="4.6" height="4.67" transform="rotate(135.0)"/><rect x="-2.3" y="-14.40" width="4.6" height="4.67" transform="rotate(180.0)"/><rect x="-2.3" y="-14.40" width="4.6" height="4.67" transform="rotate(225.0)"/><rect x="-2.3" y="-14.40" width="4.6" height="4.67" transform="rotate(270.0)"/><rect x="-2.3" y="-14.40" width="4.6" height="4.67" transform="rotate(315.0)"/><circle r="5.76" fill="#7a4a1c"/></g>
<polyline points="66.2,667 146.3,710.1 226.4,667" fill="none" stroke="#0d0d0d" stroke-width="2.6" stroke-linejoin="miter"/>
<polygon points="66.2,488.6 146.3,532.1 226.4,488.6 226.4,574.8 146.3,617.2 66.2,574.8" fill="#fff"/>
<g transform="translate(85.6,512.3) rotate(8)"><use href="#bean" x="-16" y="-11" width="32" height="22"/></g>
<g transform="translate(117.6,537) rotate(70)"><use href="#bean" x="-16" y="-11" width="32" height="22"/></g>
<g transform="translate(81.9,563.6) rotate(-28)"><use href="#bean" x="-16" y="-11" width="32" height="22"/></g>
<g transform="translate(134.4,560.4) rotate(80)"><use href="#bean" x="-16" y="-11" width="32" height="22"/></g>
<g transform="translate(130,592.5) rotate(3)"><use href="#bean" x="-16" y="-11" width="32" height="22"/></g>
<g transform="translate(190.4,521) rotate(-70)"><use href="#bean" x="-16" y="-11" width="32" height="22"/></g>
<g transform="translate(164.6,544.2) rotate(-14)"><use href="#bean" x="-16" y="-11" width="32" height="22"/></g>
<g transform="translate(181.1,566.2) rotate(86)"><use href="#bean" x="-16" y="-11" width="32" height="22"/></g>
<g transform="translate(213.8,540.7) rotate(60)"><use href="#bean" x="-16" y="-11" width="32" height="22"/></g>
<g transform="translate(164.6,588.4) rotate(0) scale(1.0,1.0)"><use href="#flame" x="-16" y="-20" width="32" height="40"/></g>
<g transform="translate(207.3,564.5) rotate(0) scale(0.98,0.95)"><use href="#flame" x="-16" y="-20" width="32" height="40"/></g>
<path d="M104.20,534.80 C103.52,534.40 100.88,534.68 98.90,534.00 C96.92,533.32 94.37,531.93 92.30,530.70 C90.23,529.47 88.55,527.63 86.50,526.60 C84.45,525.57 82.18,524.78 80.00,524.50 C77.82,524.22 75.32,524.28 73.40,524.90 C71.48,525.52 69.60,526.83 68.50,528.20 C67.40,529.57 67.02,530.50 66.80,533.10 C66.58,535.70 66.52,541.33 67.20,543.80 C67.88,546.27 69.18,546.93 70.90,547.90 C72.62,548.87 75.17,549.53 77.50,549.60 C79.83,549.67 83.47,548.72 84.90,548.30 C86.33,547.88 86.52,547.70 86.10,547.10 C85.68,546.50 83.08,545.52 82.40,544.70 C81.72,543.88 81.58,542.90 82.00,542.20 C82.42,541.50 83.60,540.70 84.90,540.50 C86.20,540.30 88.30,540.78 89.80,541.00 C91.30,541.22 92.38,542.02 93.90,541.80 C95.42,541.58 97.38,540.60 98.90,539.70 C100.42,538.80 102.12,537.22 103.00,536.40 C103.88,535.58 104.88,535.20 104.20,534.80 Z" fill="#fff" stroke="#111" stroke-width="1.5" stroke-linejoin="round"/><path d="M66.80,534.80 C67.48,533.85 69.38,533.87 70.90,534.00 C72.42,534.13 74.73,534.98 75.90,535.60 C77.07,536.22 78.05,536.88 77.90,537.70 C77.75,538.52 76.43,539.75 75.00,540.50 C73.57,541.25 70.67,542.33 69.30,542.20 C67.93,542.07 67.22,540.93 66.80,539.70 C66.38,538.47 66.12,535.75 66.80,534.80 Z" fill="none" stroke="#111" stroke-width="1.4"/>
<path d="M116.10,557.80 C117.20,557.67 118.25,562.22 118.60,564.40 C118.95,566.58 118.75,568.98 118.20,570.90 C117.65,572.82 116.40,574.58 115.30,575.90 C114.20,577.22 112.15,577.85 111.60,578.80 C111.05,579.75 111.25,581.00 112.00,581.60 C112.75,582.20 115.20,581.72 116.10,582.40 C117.00,583.08 117.53,584.32 117.40,585.70 C117.27,587.08 116.62,589.40 115.30,590.70 C113.98,592.00 111.83,592.88 109.50,593.50 C107.17,594.12 103.75,594.60 101.30,594.40 C98.85,594.20 96.43,593.75 94.80,592.30 C93.17,590.85 91.92,588.17 91.50,585.70 C91.08,583.23 91.35,579.68 92.30,577.50 C93.25,575.32 95.02,573.97 97.20,572.60 C99.38,571.23 102.93,570.53 105.40,569.30 C107.87,568.07 110.22,567.12 112.00,565.20 C113.78,563.28 115.00,557.93 116.10,557.80 Z" fill="#fff" stroke="#111" stroke-width="1.5" stroke-linejoin="round"/><path d="M97.60,589.00 C97.20,588.03 97.93,586.20 98.90,584.90 C99.87,583.60 102.32,581.20 103.40,581.20 C104.48,581.20 105.20,583.60 105.40,584.90 C105.60,586.20 105.28,588.03 104.60,589.00 C103.92,589.97 102.47,590.70 101.30,590.70 C100.13,590.70 98.00,589.97 97.60,589.00 Z" fill="none" stroke="#111" stroke-width="1.4"/>
<polyline points="66.2,574.8 146.3,617.2 226.4,574.8" fill="none" stroke="#0d0d0d" stroke-width="3.2" stroke-linejoin="miter"/>
<polygon points="66.2,405.8 146.3,450.1 226.4,405.8 226.4,474.7 146.3,517.9 66.2,474.7" fill="#fff"/>
<use href="#gcirc" x="66.7" y="416.5" width="36" height="36"/>
<use href="#gcirc" x="104.9" y="438.2" width="36" height="36"/>
<use href="#gcirc" x="72.1" y="451" width="36" height="36"/>
<use href="#gcirc" x="109.8" y="472" width="36" height="36"/>
<g transform="translate(206.7,437) rotate(15)"><use href="#gbean" x="-16" y="-11" width="32" height="22"/></g>
<g transform="translate(179.6,453) rotate(8)"><use href="#gbean" x="-16" y="-11" width="32" height="22"/></g>
<g transform="translate(209.2,463.6) rotate(40)"><use href="#gbean" x="-16" y="-11" width="32" height="22"/></g>
<g transform="translate(161.6,471.5) rotate(5)"><use href="#gbean" x="-16" y="-11" width="32" height="22"/></g>
<g transform="translate(187.7,480.1) rotate(-62)"><use href="#gbean" x="-16" y="-11" width="32" height="22"/></g>
<g transform="translate(161.6,493.7) rotate(5)"><use href="#gbean" x="-16" y="-11" width="32" height="22"/></g>
<polygon points="66.2,474.7 146.3,517.9 226.4,474.7 226.4,487.3 146.3,530.8 66.2,487.3" fill="#c2a96b"/>
<polyline points="66.2,474.7 146.3,517.9 226.4,474.7" fill="none" stroke="#0d0d0d" stroke-width="2.7" stroke-linejoin="miter"/>
<polyline points="66.2,487.3 146.3,530.8 226.4,487.3" fill="none" stroke="#0d0d0d" stroke-width="2.7" stroke-linejoin="miter"/>
<polygon points="66.2,381.3 146.3,336.5 226.4,381.3 146.3,426.7" fill="#b19d62" stroke="#0d0d0d" stroke-width="2"/>
<polygon points="66.2,381.3 146.3,426.7 226.4,381.3 226.4,405.8 146.3,450.1 66.2,405.8" fill="#fff"/>
<polyline points="66.2,381.3 146.3,426.7 226.4,381.3" fill="none" stroke="#0d0d0d" stroke-width="1.8" stroke-linejoin="miter"/>
<polyline points="66.2,405.8 146.3,450.1 226.4,405.8" fill="none" stroke="#0d0d0d" stroke-width="3.2" stroke-linejoin="miter"/>
<line x1="66.2" y1="380.3" x2="66.2" y2="1195" stroke="#0d0d0d" stroke-width="2.1"/>
<line x1="226.4" y1="380.3" x2="226.4" y2="1195" stroke="#0d0d0d" stroke-width="2.1"/>
<line x1="146.3" y1="426.7" x2="146.3" y2="1240" stroke="#0d0d0d" stroke-width="1.9"/>
<g fill="#fff" stroke="#0d0d0d" stroke-width="1.7" stroke-linejoin="round"><path d="M76.03,338.14 C75.66,336.37 77.31,336.27 78.22,335.95 C79.13,335.62 80.83,336.68 81.51,336.16 C82.18,335.65 82.55,335.80 82.27,332.88 C82.00,329.95 80.56,322.28 79.86,318.63 C79.17,314.98 78.29,312.82 78.11,310.96 C77.93,309.10 78.29,308.26 78.77,307.45 C79.24,306.65 80.25,306.10 80.96,306.14 C81.67,306.17 82.31,307.74 83.04,307.67 C83.77,307.60 84.48,305.94 85.34,305.70 C86.20,305.46 87.22,305.52 88.19,306.25 C89.16,306.98 90.31,309.48 91.15,310.08 C91.99,310.68 92.52,309.64 93.23,309.86 C93.95,310.08 94.55,310.30 95.42,311.40 C96.30,312.49 97.73,314.90 98.49,316.44 C99.26,317.97 99.44,320.04 100.03,320.60 C100.61,321.17 101.31,319.53 102.00,319.84 C102.69,320.15 103.04,320.38 104.19,322.47 C105.34,324.55 107.21,329.04 108.90,332.33 C110.60,335.62 112.37,338.90 114.38,342.19 C116.39,345.48 118.68,348.68 120.96,352.05 C123.24,355.43 126.07,359.09 128.08,362.47 C130.09,365.84 131.83,368.49 133.01,372.33 C134.20,376.16 134.71,380.18 135.21,385.48 C135.70,390.78 136.52,400.24 135.97,404.11 C135.42,407.98 134.51,407.91 131.92,408.71 C129.32,409.52 123.10,409.79 120.41,408.93 C117.73,408.07 116.87,406.19 115.81,403.56 C114.75,400.93 115.11,396.26 114.05,393.15 C113.00,390.05 111.86,387.76 109.45,384.93 C107.04,382.10 102.51,379.27 99.59,376.16 C96.67,373.06 94.11,369.59 91.92,366.30 C89.73,363.01 88.36,359.73 86.44,356.44 C84.52,353.15 82.15,349.63 80.41,346.58 C78.68,343.53 76.39,339.91 76.03,338.14 Z"/><path d="M76.03,338.14 C75.66,336.37 77.31,336.27 78.22,335.95 C79.13,335.62 80.83,336.68 81.51,336.16 C82.18,335.65 82.55,335.80 82.27,332.88 C82.00,329.95 80.56,322.28 79.86,318.63 C79.17,314.98 78.29,312.82 78.11,310.96 C77.93,309.10 78.29,308.26 78.77,307.45 C79.24,306.65 80.25,306.10 80.96,306.14 C81.67,306.17 82.31,307.74 83.04,307.67 C83.77,307.60 84.48,305.94 85.34,305.70 C86.20,305.46 87.22,305.52 88.19,306.25 C89.16,306.98 90.31,309.48 91.15,310.08 C91.99,310.68 92.52,309.64 93.23,309.86 C93.95,310.08 94.55,310.30 95.42,311.40 C96.30,312.49 97.73,314.90 98.49,316.44 C99.26,317.97 99.44,320.04 100.03,320.60 C100.61,321.17 101.31,319.53 102.00,319.84 C102.69,320.15 103.04,320.38 104.19,322.47 C105.34,324.55 107.21,329.04 108.90,332.33 C110.60,335.62 112.37,338.90 114.38,342.19 C116.39,345.48 118.68,348.68 120.96,352.05 C123.24,355.43 126.07,359.09 128.08,362.47 C130.09,365.84 131.83,368.49 133.01,372.33 C134.20,376.16 134.71,380.18 135.21,385.48 C135.70,390.78 136.52,400.24 135.97,404.11 C135.42,407.98 134.51,407.91 131.92,408.71 C129.32,409.52 123.10,409.79 120.41,408.93 C117.73,408.07 116.87,406.19 115.81,403.56 C114.75,400.93 115.11,396.26 114.05,393.15 C113.00,390.05 111.86,387.76 109.45,384.93 C107.04,382.10 102.51,379.27 99.59,376.16 C96.67,373.06 94.11,369.59 91.92,366.30 C89.73,363.01 88.36,359.73 86.44,356.44 C84.52,353.15 82.15,349.63 80.41,346.58 C78.68,343.53 76.39,339.91 76.03,338.14 Z" transform="translate(292.6,0) scale(-1,1)"/></g>
<g fill="none" stroke="#0d0d0d" stroke-width="1.55" stroke-linecap="round"><path d="M83.04,307.89 C83.75,310.87 85.53,319.80 87.32,325.75 C89.11,331.71 92.70,340.64 93.78,343.62 M91.15,310.41 C91.79,313.24 93.51,321.74 94.99,327.40 C96.47,333.06 99.19,341.55 100.03,344.38 M100.03,320.82 C100.50,322.65 101.80,327.95 102.88,331.78 C103.95,335.62 105.89,341.83 106.49,343.84 M78.77,336.16 C80.05,336.44 84.16,336.44 86.44,337.81 C88.72,339.18 90.00,341.74 92.47,344.38 C94.93,347.03 98.40,351.60 101.23,353.70 C104.06,355.80 106.71,355.16 109.45,356.99 C112.19,358.81 116.30,363.38 117.67,364.66"/><path d="M83.04,307.89 C83.75,310.87 85.53,319.80 87.32,325.75 C89.11,331.71 92.70,340.64 93.78,343.62 M91.15,310.41 C91.79,313.24 93.51,321.74 94.99,327.40 C96.47,333.06 99.19,341.55 100.03,344.38 M100.03,320.82 C100.50,322.65 101.80,327.95 102.88,331.78 C103.95,335.62 105.89,341.83 106.49,343.84 M78.77,336.16 C80.05,336.44 84.16,336.44 86.44,337.81 C88.72,339.18 90.00,341.74 92.47,344.38 C94.93,347.03 98.40,351.60 101.23,353.70 C104.06,355.80 106.71,355.16 109.45,356.99 C112.19,358.81 116.30,363.38 117.67,364.66" transform="translate(292.6,0) scale(-1,1)"/></g>
<ellipse cx="147" cy="335.3" rx="23.1" ry="19" fill="#fff" stroke="#0d0d0d" stroke-width="1.7"/>
<g fill="none" stroke="#0d0d0d" stroke-width="1.4" stroke-linecap="round"><path d="M130.2,342.6 C134,348.5 140,351.8 146.8,352.3"/><path d="M144.6,351.8 C153,351 161,347.5 165.8,342.6"/><path d="M129,330.3 C132.5,331.5 132.5,337.5 130,338.9"/></g><circle cx="127.6" cy="334.8" r="1.5" fill="#0d0d0d"/>
<line x1="199" y1="332.8" x2="295" y2="332.8" stroke="#111" stroke-width="1.85"/>
<line x1="199" y1="446.2" x2="295" y2="446.2" stroke="#111" stroke-width="1.85"/>
<line x1="199" y1="531.4" x2="295" y2="531.4" stroke="#111" stroke-width="1.85"/>
<line x1="199" y1="629.9" x2="295" y2="629.9" stroke="#111" stroke-width="1.85"/>
<line x1="199" y1="735.6" x2="295" y2="735.6" stroke="#111" stroke-width="1.85"/>
<line x1="199" y1="859.6" x2="295" y2="859.6" stroke="#111" stroke-width="1.85"/>
<line x1="199" y1="958.6" x2="295" y2="958.6" stroke="#111" stroke-width="1.85"/>
<line x1="199" y1="1057.3" x2="295" y2="1057.3" stroke="#111" stroke-width="1.85"/>
<line x1="199" y1="1162.3" x2="295" y2="1162.3" stroke="#111" stroke-width="1.85"/></svg>
<div class="t1">哥伦比亚咖啡</div>
<div class="t2">冻干工艺</div>
<div class="tx" style="top:319.3px">纯手工采擒哥伦比亚<span style="letter-spacing:1.15px">1200–1300m</span>海拔<br>生长的阿拉比卡咖啡豆</div>
<div class="tx" style="top:432.2px">精选优质咖啡豆，水洗处理</div>
<div class="tx" style="top:517.4px">精细烘焙，保留咖啡本香</div>
<div class="tx" style="top:615.4px">咖啡熟豆研磨成分</div>
<div class="tx" style="top:721px">在封闭容器内，用纯净水对流萃取新鲜<br>咖啡粉加强香味物质的提出</div>
<div class="tx" style="top:845.6px">–5℃冷冻浓缩，将其中水分冰冻成冰排出</div>
<div class="tx" style="top:944px">–50℃低温冻成固体</div>
<div class="tx" style="top:1042.8px">切碎冻干固体</div>
<div class="tx" style="top:1148.3px">经真空再次去除多余水分，得到冻干颗粒</div>
<div class="tx" style="top:1293.8px">工厂封装，打包运输至中国</div>
</body></html>
